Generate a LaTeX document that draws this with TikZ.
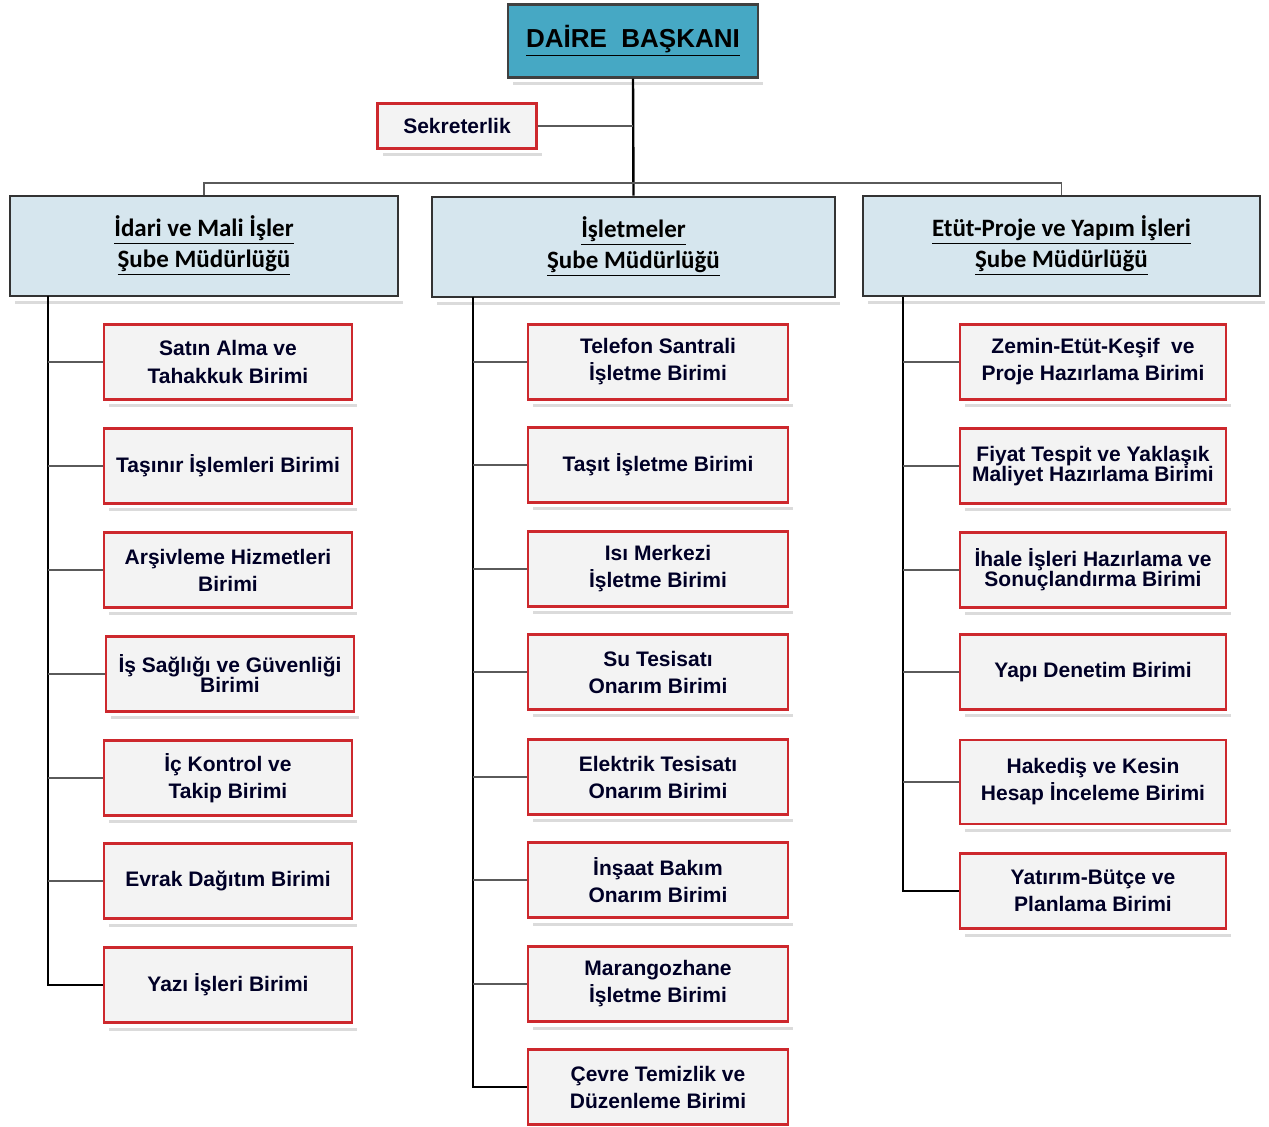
\documentclass[tikz,border=0pt]{standalone}
\usepackage{fontspec}
\setmainfont{Liberation Sans}
\newfontfamily\calfont{Carlito}
\usetikzlibrary{shadows}
\definecolor{boxred}{RGB}{205,40,45}
\definecolor{deptfill}{RGB}{214,230,238}
\definecolor{topfill}{RGB}{70,168,196}
\definecolor{unitfill}{RGB}{243,243,243}
\definecolor{linegray}{RGB}{90,90,90}
\begin{document}
\begin{tikzpicture}[x=0.5pt,y=-0.5pt,
  shade/.style={drop shadow={shadow xshift=2.5pt,shadow yshift=-4pt,opacity=0.14,fill=black}},
  frame/.style={preaction={draw=white,line width=5pt}},
  unit/.style={shade,frame,draw=boxred,line width=1.3pt,fill=unitfill,align=center,
    font=\bfseries\fontsize{10.5}{13.5}\selectfont,minimum height=37.5pt,inner sep=1pt,text=black!85!blue},
  unitL/.style={unit,minimum width=124pt},
  unitM/.style={unit,minimum width=130pt},
  unitR/.style={unit,minimum width=133pt},
  tight/.style={font=\bfseries\fontsize{10.5}{10}\selectfont},
  dept/.style={shade,frame,draw=black!80,line width=1.4pt,fill=deptfill,align=center,
    font=\calfont\bfseries\fontsize{12.5}{15.5}\selectfont,minimum height=50pt},
  spine/.style={line width=1.2pt,black},
  stub/.style={line width=0.9pt,linegray},
]
\useasboundingbox (0,0) rectangle (1269,1127);

% top
\node[shade,frame,draw=black!75,line width=1.2pt,fill=topfill,minimum width=125pt,minimum height=36.5pt,
  font=\bfseries\fontsize{13}{15}\selectfont] (top) at (633,41) {\underline{DAİRE\ \ BAŞKANI}};
\node[unit,minimum width=79.5pt,minimum height=22.5pt] (sek) at (457,126) {Sekreterlik};

% departments
\node[dept,minimum width=194pt] (d1) at (204,246) {\underline{İdari ve Mali İşler}\\\underline{Şube Müdürlüğü}};
\node[dept,minimum width=201.5pt] (d2) at (633.5,247) {\underline{İşletmeler}\\\underline{Şube Müdürlüğü}};
\node[dept,minimum width=198.5pt] (d3) at (1061.5,246) {\underline{Etüt-Proje ve Yapım İşleri}\\\underline{Şube Müdürlüğü}};

% left units
\node[unitL] (a1) at (228,362) {Satın Alma ve\\Tahakkuk Birimi};
\node[unitL] (a2) at (228,466) {Taşınır İşlemleri Birimi};
\node[unitL] (a3) at (228,570) {Arşivleme Hizmetleri\\Birimi};
\node[unitL,tight] (a4) at (230,674) {İş Sağlığı ve Güvenliği\\Birimi};
\node[unitL] (a5) at (228,778) {İç Kontrol ve\\Takip Birimi};
\node[unitL] (a6) at (228,881) {Evrak Dağıtım Birimi};
\node[unitL] (a7) at (228,985) {Yazı İşleri Birimi};

% middle units
\node[unitM] (b1) at (658,362) {Telefon Santrali\\İşletme Birimi};
\node[unitM] (b2) at (658,465) {Taşıt İşletme Birimi};
\node[unitM] (b3) at (658,569) {Isı Merkezi\\İşletme Birimi};
\node[unitM] (b4) at (658,672) {Su Tesisatı\\Onarım Birimi};
\node[unitM] (b5) at (658,777) {Elektrik Tesisatı\\Onarım Birimi};
\node[unitM] (b6) at (658,880) {İnşaat Bakım\\Onarım Birimi};
\node[unitM] (b7) at (658,984) {Marangozhane\\İşletme Birimi};
\node[unitM] (b8) at (658,1087) {Çevre Temizlik ve\\Düzenleme Birimi};

% right units
\node[unitR] (c1) at (1093,362) {Zemin-Etüt-Keşif\ \ ve\\Proje Hazırlama Birimi};
\node[unitR,tight] (c2) at (1093,466) {Fiyat Tespit ve Yaklaşık\\Maliyet Hazırlama Birimi};
\node[unitR,tight] (c3) at (1093,570) {İhale İşleri Hazırlama ve\\Sonuçlandırma Birimi};
\node[unitR] (c4) at (1093,672) {Yapı Denetim Birimi};
\node[unitR,minimum height=42pt] (c5) at (1093,782) {Hakediş ve Kesin\\Hesap İnceleme Birimi};
\node[unitR] (c6) at (1093,891) {Yatırım-Bütçe ve\\Planlama Birimi};

% connectors top
\coordinate (bus) at (633.5,183);
\draw[spine] (top.south) -- (d2.north);
\draw[stub] (sek.east) -- (sek.east -| top.south);
\draw[stub] (d1.north) |- (bus) -| (d3.north);

% spines
\coordinate (s1) at (48,296);
\coordinate (s2) at (473,297);
\coordinate (s3) at (903,297);
\draw[spine] (s1) |- (a7.west);
\draw[spine] (s2) |- (b8.west);
\draw[spine] (s3) |- (c6.west);
\foreach \n in {a1,a2,a3,a4,a5,a6} \draw[stub] (s1 |- \n.west) -- (\n.west);
\foreach \n in {b1,b2,b3,b4,b5,b6,b7} \draw[stub] (s2 |- \n.west) -- (\n.west);
\foreach \n in {c1,c2,c3,c4,c5} \draw[stub] (s3 |- \n.west) -- (\n.west);
\end{tikzpicture}
\end{document}
